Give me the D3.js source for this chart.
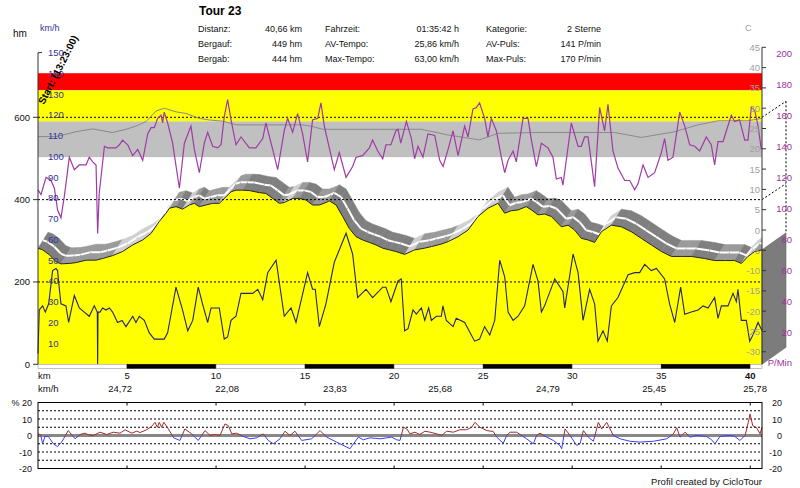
<!DOCTYPE html>
<html><head><meta charset="utf-8">
<script src="https://cdn.jsdelivr.net/npm/d3@7"></script>
<style>body{margin:0;background:#fff;} svg{display:block;font-family:"Liberation Sans",Arial,sans-serif;}</style>
</head><body><svg id="c" width="800" height="488"></svg>
<script>
// ---------- DATA ----------
const elevation = [[0,282],[0.26,278],[0.64,266],[1.01,249],[1.29,244],[1.76,245],[2.13,247],[2.70,253],[3.26,253],[3.63,257],[4.19,264],[4.75,274],[5.32,290],[5.88,302],[6.35,318],[6.81,347],[7.19,367],[7.38,379],[7.75,383],[8.12,377],[8.50,387],[8.78,391],[9.06,383],[9.43,387],[9.81,391],[10.18,391],[10.56,407],[10.84,419],[11.12,423],[11.49,423],[11.87,422],[12.43,417],[12.80,415],[13.18,403],[13.55,391],[13.83,393],[14.30,403],[14.68,403],[15.05,399],[15.42,387],[15.80,387],[16.17,393],[16.36,397],[16.74,387],[17.11,359],[17.48,330],[17.86,310],[18.23,302],[18.61,296],[18.98,290],[19.36,282],[19.73,278],[20.10,274],[20.59,267],[21.15,278],[21.71,282],[22.09,286],[22.65,292],[23.03,298],[23.59,310],[24.15,326],[24.71,359],[25.27,379],[25.83,391],[26.21,367],[26.58,373],[26.96,375],[27.42,383],[27.71,375],[28.08,363],[28.45,365],[28.83,359],[29.39,334],[29.77,338],[30.14,326],[30.51,306],[30.89,302],[31.26,296],[31.64,322],[32.20,338],[32.76,334],[33.32,322],[33.88,306],[34.44,290],[35.01,274],[35.57,262],[36.13,262],[36.69,262],[37.44,257],[38.00,252],[38.56,252],[39.12,252],[39.50,245],[39.87,262],[40.25,274],[40.66,278]];

const speed = [[0,5],[0.07,26],[0.26,28],[0.41,25],[0.60,29],[0.82,45],[1.01,46],[1.10,45],[1.20,36],[1.29,29],[1.57,28],[1.72,20],[2.04,33],[2.32,27],[2.60,25],[2.88,23],[3.16,28],[3.33,25],[3.35,0],[3.37,25],[3.48,25],[3.63,27],[3.82,26],[4.01,27],[4.19,25],[4.47,20],[4.72,21],[4.94,18],[5.32,23],[5.50,20],[5.69,23],[5.97,21],[6.25,15],[6.53,12],[7.09,12],[7.28,15],[7.75,37],[8.12,26],[8.41,16],[8.69,21],[9.00,37],[9.24,29],[9.53,20],[9.72,27],[10.18,27],[10.46,12],[10.65,13],[10.84,21],[11.12,23],[11.40,34],[12.06,34],[12.34,36],[12.62,31],[12.90,44],[13.37,50],[13.83,23],[14.21,27],[14.49,20],[15.14,44],[15.42,36],[15.57,36],[15.80,18],[16.17,29],[16.64,49],[17.30,63],[17.67,53],[17.95,32],[18.42,36],[18.79,32],[19.36,37],[19.54,37],[19.82,30],[20.22,40],[20.40,41],[20.59,16],[20.78,17],[21.06,26],[21.25,24],[21.53,27],[21.72,21],[21.94,27],[22.09,21],[22.37,23],[22.65,23],[22.74,28],[22.93,21],[23.31,18],[23.49,22],[23.96,20],[24.52,11],[24.80,12],[25.08,18],[25.37,14],[25.65,21],[25.93,50],[26.21,42],[26.40,25],[26.68,21],[26.96,23],[27.33,28],[27.80,48],[28.08,40],[28.27,25],[28.45,28],[29.02,41],[29.48,35],[29.58,27],[30.05,53],[30.33,44],[30.61,21],[30.98,36],[31.26,29],[31.45,11],[31.73,16],[31.97,11],[32.20,28],[32.57,32],[33.14,43],[33.51,44],[33.79,44],[34.07,48],[34.44,45],[34.73,46],[35.19,41],[35.47,29],[35.76,20],[36.09,37],[36.32,24],[36.69,25],[37.07,26],[37.35,28],[37.63,27],[38.00,32],[38.19,22],[38.38,28],[38.75,28],[39.03,34],[39.22,30],[39.31,36],[39.50,21],[39.78,21],[39.97,11],[40.15,14],[40.44,20],[40.66,16]];

const pulse = [[0,112],[0.17,109],[0.45,120],[0.73,118],[0.92,113],[1.10,99],[1.29,94],[1.48,108],[1.76,133],[2.04,125],[2.32,128],[2.70,128],[2.88,133],[3.07,130],[3.26,128],[3.35,84],[3.44,110],[3.73,140],[3.91,139],[4.38,139],[4.57,141],[4.75,144],[5.04,141],[5.32,134],[5.60,138],[5.88,131],[6.16,148],[6.35,152],[6.53,152],[6.72,158],[6.91,160],[7.00,155],[7.09,162],[7.28,155],[7.56,142],[7.94,113],[8.22,142],[8.59,153],[8.78,138],[9.06,123],[9.34,142],[9.53,149],[9.81,140],[10.09,139],[10.28,141],[10.46,159],[10.65,170],[10.84,157],[11.12,141],[11.40,146],[11.87,139],[12.24,139],[12.62,145],[12.80,155],[13.18,138],[13.46,125],[13.83,150],[14.02,158],[14.30,149],[14.58,161],[14.86,148],[15.14,130],[15.42,157],[15.71,158],[15.89,168],[16.08,153],[16.36,139],[16.64,125],[16.92,136],[17.30,120],[17.67,127],[17.86,133],[18.23,134],[18.61,139],[18.79,144],[19.08,137],[19.36,132],[19.54,141],[19.82,141],[20.10,150],[20.22,151],[20.37,142],[20.69,156],[20.97,145],[21.15,132],[21.34,140],[21.62,133],[21.90,148],[22.28,147],[22.56,131],[22.75,127],[23.03,138],[23.31,150],[23.59,134],[23.96,153],[24.15,146],[24.43,164],[24.62,165],[24.80,168],[25.08,158],[25.27,146],[25.46,158],[25.74,150],[26.02,133],[26.21,123],[26.40,131],[26.68,137],[26.86,130],[27.24,158],[27.52,158],[27.71,144],[27.99,127],[28.27,142],[28.64,139],[28.92,133],[29.11,119],[29.39,120],[29.48,115],[29.95,155],[30.33,140],[30.51,140],[30.70,146],[30.89,146],[31.26,114],[31.54,165],[31.82,150],[32.01,167],[32.29,137],[32.57,126],[32.95,118],[33.23,118],[33.51,112],[33.70,116],[33.98,128],[34.26,120],[34.63,123],[35.01,136],[35.19,145],[35.38,131],[35.66,133],[36.04,162],[36.32,153],[36.60,141],[36.88,140],[37.16,137],[37.53,146],[37.81,141],[38.00,128],[38.19,143],[38.47,143],[38.66,150],[38.94,160],[39.12,156],[39.40,157],[39.69,144],[39.87,144],[40.06,165],[40.25,163],[40.44,153],[40.62,138]];

const temperature = [[0,23.0],[1.01,23.0],[2.13,24.2],[3.07,24.9],[4.19,24.0],[4.94,24.8],[5.50,25.6],[6.07,26.7],[6.63,29.3],[7.09,30.0],[7.75,29.1],[8.31,28.7],[9.06,27.5],[9.62,27.1],[10.37,26.8],[11.12,25.9],[14.86,25.9],[15.42,25.5],[15.99,24.8],[21.53,24.8],[23.03,23.4],[24.80,22.2],[25.83,23.8],[27.71,24.0],[32.39,24.0],[33.88,22.8],[35.76,24.2],[37.07,25.9],[38.19,26.9],[39.87,26.9],[40.66,27.5]];

const slope = [[0,1],[0.15,0.4],[0.26,-5],[0.39,-0.6],[0.58,-0.6],[0.67,-2],[0.86,-5],[1.09,-6.7],[1.33,-4],[1.70,3],[2.08,-2],[2.36,0.6],[2.64,1.4],[2.83,0.4],[3.11,0],[3.48,2],[3.86,0.6],[4.23,2],[4.61,1.4],[4.89,3.5],[5.26,1.4],[5.54,2.6],[5.73,1.8],[6.10,3.5],[6.38,5.5],[6.57,8],[6.70,5],[6.81,8],[6.94,5],[7.07,8],[7.32,4],[7.62,-1.4],[7.97,-3],[8.25,4],[8.63,1],[9.00,-3],[9.38,3],[9.66,0],[9.94,0.6],[10.22,0],[10.50,7],[10.69,6],[10.88,1],[11.16,1.4],[11.53,-0.6],[11.91,-2],[12.28,-1.4],[12.65,1],[12.93,-3],[13.22,-5],[13.59,-2],[13.87,2.6],[14.15,0],[14.43,2.6],[14.81,-3],[15.37,-2],[15.84,3],[16.21,-1],[16.77,-4],[17.52,-8],[17.99,-1],[18.27,-2.6],[18.65,-1.4],[19.21,-2],[19.86,-1],[20.14,-2.6],[20.33,-3],[20.52,5],[20.71,4],[20.89,1],[21.17,2],[21.45,0.6],[21.73,2.6],[22.02,2],[22.39,1],[22.67,0],[22.95,2.6],[23.33,2],[23.70,3.5],[24.07,3.5],[24.36,5],[24.54,8],[24.82,5],[25.20,3],[25.57,2.4],[25.76,-1],[26.13,-4.7],[26.32,0],[26.51,2],[26.88,2],[27.16,0],[27.44,-2],[27.82,-5],[28.00,0],[28.19,1.4],[28.57,-1],[28.94,-3],[29.31,-6],[29.41,-8],[29.60,4],[29.88,0],[30.25,-6],[30.44,-5],[30.63,3],[30.91,-1],[31.19,-3.5],[31.47,8],[31.66,4],[31.94,8],[32.31,0],[32.69,-2],[33.25,-3.5],[33.81,-4],[34.56,-3.5],[35.31,-2],[35.68,1],[35.87,4.7],[36.06,-1],[36.34,2],[36.62,-1],[36.99,0],[37.55,-0.6],[37.83,-2.6],[38.02,-5],[38.30,-0.6],[38.86,0],[39.14,-0.6],[39.42,-3],[39.71,0],[39.89,8],[39.99,13],[40.14,6],[40.36,4.7],[40.55,1],[40.66,5]];

const pulseZones = [[176,187,"#ff0000"],[156,176,"#ffff00"],[133,156,"#c0c0c0"]];
const kmTicks = [5,10,15,20,25,30,35,40];
const hmTicks = [0,200,400,600];
const speedTicks = [10,20,30,40,50,60,70,80,90,100,110,120,130,140,150];
const tempTicks = [45,40,35,30,25,20,15,10,5,0,-5,-10,-15,-20,-25,-30];
const pulseTicks = [200,180,160,140,120,100,80,60,40,20];
const slopeTicks = [20,10,0,-10,-20];
const slopeGrid = [15,10,5,-5,-10,-15];
const avgKm = [4.61,10.62,16.68,22.58,28.64,34.60,40.27];
const avgSpeed = ["24,72","22,08","23,83","25,68","24,79","25,45","25,78"];
const statsCol1 = [["Distanz:","40,66 km"],["Bergauf:","449 hm"],["Bergab:","444 hm"]];
const statsCol2 = [["Fahrzeit:","01:35:42 h"],["AV-Tempo:","25,86 km/h"],["Max-Tempo:","63,00 km/h"]];
const statsCol3 = [["Kategorie:","2 Sterne"],["AV-Puls:","141 P/min"],["Max-Puls:","170 P/min"]];

// ---------- SCALES ----------
const svg = d3.select("#c");
const x = d3.scaleLinear().domain([0,40.66]).range([38,762]);
const yHm = d3.scaleLinear().domain([0,600]).range([364.3,117.3]);
const ySpd = d3.scaleLinear().domain([0,150]).range([364,52.6]);
const yHr = d3.scaleLinear().domain([0,200]).range([364,53]);
const yT = d3.scaleLinear().domain([-30,45]).range([351.8,47.3]);
const yS = d3.scaleLinear().domain([-20,20]).range([468.5,402.5]);
const DX = 10, DY = -16;       // ribbon depth
const PX = 24, PY = -17;       // side panel depth
const X0 = x(0), X1 = x(40.66), YB = yHm(0);

svg.append("rect").attr("width",800).attr("height",488).attr("fill","#fff");
const defs = svg.append("defs");
defs.append("clipPath").attr("id","plot").append("rect")
  .attr("x",X0).attr("y",40).attr("width",X1-X0).attr("height",YB-40);

// zones
svg.append("g").selectAll("rect").data(pulseZones).join("rect")
  .attr("x",X0).attr("width",X1-X0)
  .attr("y",d=>yHr(d[1])).attr("height",d=>yHr(d[0])-yHr(d[1]))
  .attr("fill",d=>d[2]);

// ribbon (3D top of profile)
const rib = svg.append("g").attr("clip-path","url(#plot)");
const pts = elevation.map(d=>[x(d[0]),yHm(d[1])]);
for(let i=0;i<pts.length-1;i++){
  const [a0,b0]=pts[i],[a1,b1]=pts[i+1];
  const col = b1>b0+0.3 ? "#7f7f7f" : (b1<b0-4 ? "#d0d0d0" : "#9a9a9a");
  rib.append("path")
    .attr("d",`M${a0},${b0}L${a1},${b1}L${a1+DX},${b1+DY}L${a0+DX},${b0+DY}Z`)
    .attr("fill",col).attr("stroke",col).attr("stroke-width",0.5);
  rib.append("line")
    .attr("x1",a0+DX/2).attr("y1",b0+DY/2).attr("x2",a1+DX/2).attr("y2",b1+DY/2)
    .attr("stroke","#fff").attr("stroke-width",2);
}

// front face
svg.append("path").datum(elevation)
  .attr("d",d3.area().x(d=>x(d[0])).y0(YB).y1(d=>yHm(d[1])))
  .attr("fill","#ffff00");
svg.append("path").datum(elevation)
  .attr("d",d3.line().x(d=>x(d[0])).y(d=>yHm(d[1])))
  .attr("fill","none").attr("stroke","#222").attr("stroke-width",1);

// side panel
const yEnd = yHm(elevation[elevation.length-1][1]);
svg.append("path")
  .attr("d",`M${X1},${yEnd}L${X1+PX},${yEnd+PY}L${X1+PX},${YB+PY}L${X1},${YB}Z`)
  .attr("fill","#7c7c7c").attr("stroke","#666").attr("stroke-width",0.6);

// dashed grid
const dash = svg.append("g").attr("stroke","#000").attr("stroke-width",1).attr("stroke-dasharray","2,2").attr("fill","none");
[200,400,600].forEach(v=>{
  dash.append("line").attr("x1",X0).attr("x2",X1).attr("y1",yHm(v)).attr("y2",yHm(v));
});
[400,600].forEach(v=>{
  dash.append("line").attr("x1",X1).attr("x2",X1+PX).attr("y1",yHm(v)).attr("y2",yHm(v)+PY+1);
});
dash.append("line").attr("x1",X1+PX).attr("x2",X1+PX).attr("y1",yHm(600)+PY+1).attr("y2",yEnd+PY);

// temperature
svg.append("path").datum(temperature)
  .attr("d",d3.line().x(d=>x(d[0])).y(d=>yT(d[1])))
  .attr("fill","none").attr("stroke","#8a8a8a").attr("stroke-width",1);
// pulse
svg.append("path").datum(pulse)
  .attr("d",d3.line().x(d=>x(d[0])).y(d=>yHr(d[1])))
  .attr("fill","none").attr("stroke","#a03aa6").attr("stroke-width",1.2);
// speed
svg.append("path").datum(speed)
  .attr("d",d3.line().x(d=>x(d[0])).y(d=>ySpd(d[1])))
  .attr("fill","none").attr("stroke","#24246c").attr("stroke-width",1.1);

// km bar
const bars = d3.range(0,40.66,5).map(k=>[k,Math.min(k+5,40.66)]);
svg.append("g").selectAll("rect").data(bars).join("rect")
  .attr("x",d=>x(d[0])).attr("width",d=>x(d[1])-x(d[0]))
  .attr("y",YB).attr("height",4)
  .attr("fill",(d,i)=>i%2?"#000":"#fff").attr("stroke",(d,i)=>i%2?"#000":"#999").attr("stroke-width",0.6);

// axes lines
const ax = svg.append("g").attr("stroke","#333").attr("stroke-width",1);
ax.append("line").attr("x1",X0).attr("x2",X0).attr("y1",ySpd(150)).attr("y2",YB);
ax.append("line").attr("x1",X0).attr("x2",X0+4).attr("y1",ySpd(150)).attr("y2",ySpd(150));
hmTicks.forEach(v=>ax.append("line").attr("x1",X0-5).attr("x2",X0).attr("y1",yHm(v)).attr("y2",yHm(v)));
ax.append("line").attr("x1",X1).attr("x2",X1).attr("y1",yT(45)).attr("y2",YB);
tempTicks.forEach(v=>ax.append("line").attr("x1",X1).attr("x2",X1+4).attr("y1",yT(v)).attr("y2",yT(v)));

// labels
const T = (t,xx,yy,opt={})=>svg.append("text").text(t).attr("x",xx).attr("y",yy)
  .attr("font-size",opt.s||9).attr("fill",opt.c||"#111")
  .attr("text-anchor",opt.a||"start").attr("font-weight",opt.w||"normal");

T("Tour 23",199,14.5,{s:12,w:"bold",c:"#000"});
[[statsCol1,198,302],[statsCol2,325,459],[statsCol3,486,601]].forEach(([rows,lx,rx])=>{
  rows.forEach((r,i)=>{ T(r[0],lx,32+i*14.8); T(r[1],rx,32+i*14.8,{a:"end"}); });
});
T("hm",13,37,{s:10});
T("km/h",40,30.5,{c:"#333399"});
T("C",745,31,{c:"#a0a0a0"});
hmTicks.forEach(v=>T(v,30,yHm(v)+3.5,{a:"end",s:9.5}));
speedTicks.forEach(v=>T(v,48,ySpd(v)+3.5,{c:"#333399",s:9.5}));
tempTicks.forEach(v=>T(v,760,yT(v)+3.5,{a:"end",c:"#a0a0a0",s:9.5}));
pulseTicks.forEach(v=>T(v,792,yHr(v)+3.5,{a:"end",c:"#993399",s:9.5}));
T("P/Min",792,yHr(0)+1.5,{a:"end",c:"#993399",s:9.5});
svg.append("text").text("Start: (13:23:00)").attr("transform","translate(44,105) rotate(-63)")
  .attr("font-size",10).attr("font-weight","bold").attr("fill","#000");

T("km",38,379,{s:9.5});
kmTicks.forEach(v=>T(v,x(v),379,{a:"middle",s:9.5,w:v===40?"bold":"normal"}));
T("km/h",38,392,{s:9.5});
avgKm.forEach((k,i)=>T(avgSpeed[i],x(k),392,{a:"middle",s:9.5}));

// ---------- slope panel ----------
const sp = svg.append("g");
slopeGrid.forEach(v=>sp.append("line").attr("x1",X0).attr("x2",X1).attr("y1",yS(v)).attr("y2",yS(v))
  .attr("stroke","#000").attr("stroke-dasharray","2,2"));
sp.append("line").attr("x1",X0).attr("x2",X1).attr("y1",yS(0)).attr("y2",yS(0))
  .attr("stroke","#888").attr("stroke-width",3);
const segs=[];
for(let i=0;i<slope.length-1;i++){
  const [k0,v0]=slope[i],[k1,v1]=slope[i+1];
  if((v0>=0&&v1>=0)||(v0<=0&&v1<=0)) segs.push([k0,v0,k1,v1,(v0+v1)>=0]);
  else { const t=v0/(v0-v1), km=k0+t*(k1-k0); segs.push([k0,v0,km,0,v0>0]); segs.push([km,0,k1,v1,v1>0]); }
}
sp.selectAll("line.s").data(segs).join("line").attr("class","s")
  .attr("x1",d=>x(d[0])).attr("y1",d=>yS(d[1])).attr("x2",d=>x(d[2])).attr("y2",d=>yS(d[3]))
  .attr("stroke",d=>d[4]?"#a52a2a":"#3c3cff").attr("stroke-width",1);
sp.append("rect").attr("x",X0).attr("y",yS(20)).attr("width",X1-X0).attr("height",yS(-20)-yS(20))
  .attr("fill","none").attr("stroke","#000");
kmTicks.forEach(v=>{
  sp.append("line").attr("x1",x(v)).attr("x2",x(v)).attr("y1",yS(20)).attr("y2",yS(20)+3).attr("stroke","#000");
  sp.append("line").attr("x1",x(v)).attr("x2",x(v)).attr("y1",yS(-20)).attr("y2",yS(-20)-3).attr("stroke","#000");
});
slopeTicks.forEach(v=>{
  T(v===20?"% 20":v,32,yS(v)+3.5,{a:"end",s:9});
  T(v,782,yS(v)+3.5,{a:"end",s:9});
});
T("Profil created by CicloTour",762,485,{a:"end",s:9.5});
</script></body></html>
